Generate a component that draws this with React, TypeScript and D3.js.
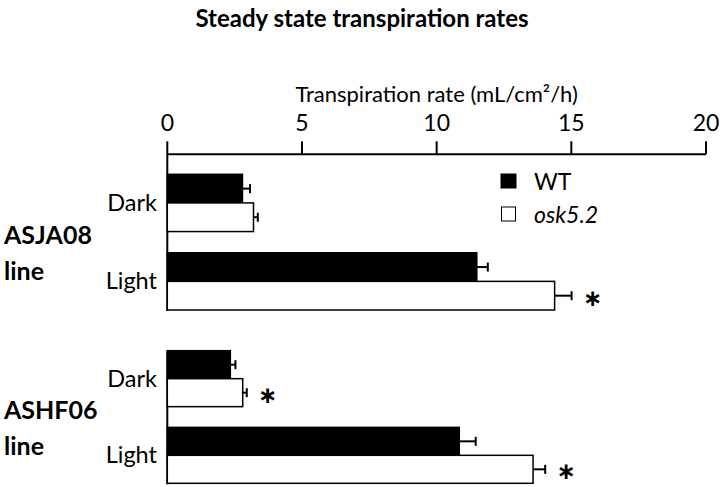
import React from "react";
import * as d3 from "d3";

const groups = ["ASJA08", "ASHF06"];
const conditions = ["Dark", "Light"];
const series = ["WT", "osk5.2"];
const wtValues = [
  [2.79, 11.49],
  [2.34, 10.84],
];
const oskValues = [
  [3.2, 14.38],
  [2.8, 13.58],
];
const wtErrors = [
  [0.28, 0.41],
  [0.19, 0.61],
];
const oskErrors = [
  [0.16, 0.63],
  [0.15, 0.45],
];
const significant = [
  [false, true],
  [true, true],
];
const xTicks = [0, 5, 10, 15, 20];

const W = 720;
const H = 487;
const FONT = "Lato, 'Open Sans', sans-serif";

export default function App() {
  const x = d3.scaleLinear().domain([0, 20]).range([167.3, 706]);
  const groupRanges: [number, number][] = [
    [174.3, 310],
    [350.7, 483.3],
  ];
  const axisTop = 154.3;

  return (
    <svg
      width={W}
      height={H}
      style={{ position: "absolute", left: 0, top: 0, background: "#fff" }}
      fontFamily={FONT}
    >
      <rect x={0} y={0} width={W} height={H} fill="#fff" />
      <text x={362} y={27} textAnchor="middle" fontWeight="bold" fontSize={24}>
        Steady state transpiration rates
      </text>
      <text x={(x(0) + x(20)) / 2} y={102} textAnchor="middle" fontSize={22}>
        Transpiration rate (mL/cm²/h)
      </text>
      <line x1={x(0)} x2={x(20)} y1={axisTop} y2={axisTop} stroke="#000" strokeWidth={2} />
      {xTicks.map((t) => (
        <g key={t}>
          <line x1={x(t)} x2={x(t)} y1={axisTop} y2={axisTop - 13} stroke="#000" strokeWidth={2} />
          <text x={x(t)} y={131} textAnchor="middle" fontSize={23}>
            {t}
          </text>
        </g>
      ))}
      {groups.map((g, gi) => {
        const [r0, r1] = groupRanges[gi];
        const y = d3.scaleBand<string>().domain(conditions).range([r0, r1]).paddingInner(0.27).paddingOuter(0);
        const ys = d3.scaleBand<string>().domain(series).range([0, y.bandwidth()]);
        const center = (r0 + r1) / 2;
        const axisStart = gi === 0 ? axisTop : r0;
        return (
          <g key={g}>
            <line x1={x(0)} x2={x(0)} y1={axisStart} y2={r1 + 1} stroke="#000" strokeWidth={2} />
            <text x={4} y={center + 2} fontWeight="bold" fontSize={25}>
              {g}
            </text>
            <text x={4} y={center + 38} fontWeight="bold" fontSize={25}>
              line
            </text>
            {conditions.map((c, ci) => {
              const by = y(c)!;
              const vals = [wtValues[gi][ci], oskValues[gi][ci]];
              const errs = [wtErrors[gi][ci], oskErrors[gi][ci]];
              return (
                <g key={c}>
                  <text x={157} y={by + y.bandwidth() / 2 + 8} textAnchor="end" fontSize={23.5}>
                    {c}
                  </text>
                  {series.map((s, si) => {
                    const yy = by + ys(s)!;
                    const h = ys.bandwidth();
                    const v = vals[si];
                    const e = errs[si];
                    const cy = yy + h / 2;
                    return (
                      <g key={s}>
                        <rect
                          x={x(0)}
                          y={yy}
                          width={x(v) - x(0)}
                          height={h}
                          fill={si === 0 ? "#000" : "#fff"}
                          stroke="#000"
                          strokeWidth={1.5}
                        />
                        <line x1={x(v)} x2={x(v + e)} y1={cy} y2={cy} stroke="#000" strokeWidth={2} />
                        <line x1={x(v + e)} x2={x(v + e)} y1={cy - 4.5} y2={cy + 4.5} stroke="#000" strokeWidth={2} />
                        {si === 1 && significant[gi][ci] && (
                          <text
                            x={x(v + e) + 21}
                            y={cy + 10}
                            textAnchor="middle"
                            fontWeight="bold"
                            fontSize={23}
                            fontFamily="'DejaVu Sans', sans-serif"
                          >
                            ∗
                          </text>
                        )}
                      </g>
                    );
                  })}
                </g>
              );
            })}
          </g>
        );
      })}
      <rect x={501} y={174} width={15} height={14} fill="#000" stroke="#000" strokeWidth={1} />
      <text x={534} y={190} fontSize={23}>
        WT
      </text>
      <rect x={501.5} y={207} width={14} height={14} fill="#fff" stroke="#000" strokeWidth={1} />
      <text x={534} y={223} fontSize={23} fontStyle="italic">
        osk5.2
      </text>
    </svg>
  );
}
